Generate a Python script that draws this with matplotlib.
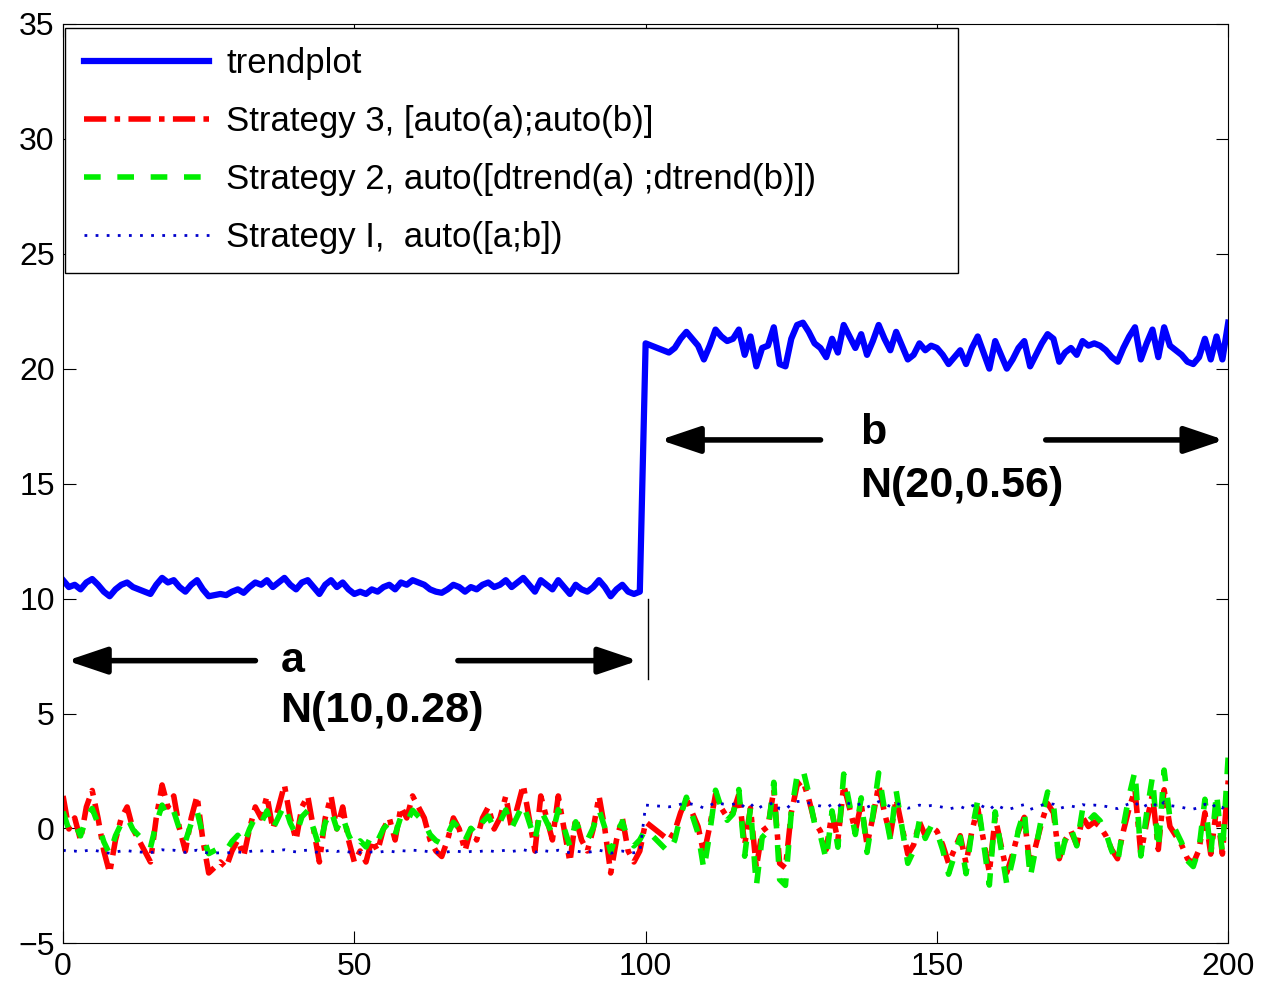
import numpy as np
import matplotlib.pyplot as plt

plt.rcParams['font.family'] = ['Liberation Sans', 'DejaVu Sans']

# trend: segment a (x = 0..99), segment b (x = 100..200)
seg_a = [10.8, 10.5, 10.6, 10.4, 10.7, 10.85, 10.6, 10.3, 10.1, 10.4,
         10.6, 10.7, 10.5, 10.4, 10.3, 10.2, 10.6, 10.9, 10.7, 10.8,
         10.5, 10.3, 10.6, 10.8, 10.4, 10.1, 10.15, 10.2, 10.15, 10.3,
         10.4, 10.25, 10.5, 10.7, 10.6, 10.8, 10.5, 10.7, 10.9, 10.6,
         10.4, 10.7, 10.8, 10.5, 10.2, 10.6, 10.8, 10.5, 10.7, 10.4,
         10.2, 10.3, 10.2, 10.4, 10.3, 10.5, 10.6, 10.4, 10.7, 10.6,
         10.8, 10.7, 10.6, 10.4, 10.3, 10.25, 10.4, 10.6, 10.5, 10.3,
         10.5, 10.4, 10.6, 10.7, 10.5, 10.6, 10.8, 10.5, 10.7, 10.9,
         10.6, 10.3, 10.8, 10.6, 10.4, 10.8, 10.5, 10.2, 10.6, 10.4,
         10.3, 10.5, 10.8, 10.5, 10.1, 10.4, 10.6, 10.3, 10.2, 10.3]
seg_b = [21.1, 21.0, 20.9, 20.8, 20.7, 20.9, 21.3, 21.6, 21.3, 21.0,
         20.4, 21.0, 21.7, 21.4, 21.2, 21.3, 21.7, 20.6, 21.4, 20.1,
         20.9, 21.0, 21.8, 20.2, 20.1, 21.3, 21.9, 22.0, 21.6, 21.1,
         20.9, 20.5, 21.3, 20.7, 21.9, 21.4, 20.9, 21.5, 20.6, 21.2,
         21.9, 21.3, 20.8, 21.6, 21.0, 20.4, 20.6, 21.1, 20.8, 21.0,
         20.9, 20.6, 20.2, 20.5, 20.8, 20.2, 20.9, 21.4, 20.7, 20.0,
         21.2, 20.6, 20.0, 20.4, 20.9, 21.2, 20.1, 20.6, 21.1, 21.5,
         21.3, 20.3, 20.7, 20.9, 20.6, 21.2, 21.0, 21.1, 21.0, 20.8,
         20.5, 20.3, 20.9, 21.4, 21.8, 20.4, 21.1, 21.7, 20.5, 21.8,
         21.0, 20.8, 20.6, 20.3, 20.2, 20.5, 21.3, 20.4, 21.4, 20.4,
         22.0]

labels = ["trendplot", "Strategy 3, [auto(a);auto(b)]",
          "Strategy 2, auto([dtrend(a) ;dtrend(b)])", "Strategy I,  auto([a;b])"]

a = np.array(seg_a)
b = np.array(seg_b)
x = np.arange(len(a) + len(b))
trend = np.concatenate([a, b])


def auto(v):
    return (v - v.mean()) / v.std(ddof=1)


def dtrend(v):
    t = np.arange(len(v))
    return v - np.polyval(np.polyfit(t, v, 1), t)


s1 = auto(trend)
s3 = np.concatenate([auto(a), auto(b)])
s2 = auto(np.concatenate([dtrend(a), dtrend(b)]))

fig = plt.figure(figsize=(12.61, 9.91), dpi=100)
ax = fig.add_axes([0.05, 0.048, 0.924, 0.928])

ax.plot(x, trend, color="#0000ff", lw=4.5, label=labels[0])
ax.plot(x, s3, color="#ff0000", lw=4, dashes=(4, 1.5, 1, 1.5), label=labels[1])
ax.plot(x, s2, color="#00ee00", lw=4, dashes=(3, 3), label=labels[2])
ax.plot(x, s1, color="#0000cc", lw=2, dashes=(1, 3), label=labels[3])

# annotations
arrow = dict(arrowstyle="-|>,head_length=0.8,head_width=0.27", color="black",
             lw=4, mutation_scale=30)
ax.annotate("", xy=(0.2, 7.3), xytext=(33.5, 7.3), arrowprops=arrow)
ax.annotate("", xy=(99.2, 7.3), xytext=(67.3, 7.3), arrowprops=arrow)
ax.annotate("", xy=(102.0, 16.9), xytext=(130.5, 16.9), arrowprops=arrow)
ax.annotate("", xy=(199.8, 16.9), xytext=(168.2, 16.9), arrowprops=arrow)
ax.plot([100.4, 100.4], [6.5, 10], color="black", lw=1)
ax.text(37.3, 7.3, "a", fontsize=31, fontweight="bold", va="center")
ax.text(37.3, 5.1, "N(10,0.28)", fontsize=31, fontweight="bold", va="center")
ax.text(136.8, 17.2, "b", fontsize=31, fontweight="bold", va="center")
ax.text(136.8, 14.9, "N(20,0.56)", fontsize=31, fontweight="bold", va="center")

ax.set_xlim(0, 200)
ax.set_ylim(-5, 35)
ax.set_xticks(np.arange(0, 201, 50))
ax.set_yticks(np.arange(-5, 36, 5))
ax.tick_params(direction="in", top=True, right=True, labelsize=23, length=9, pad=6)

leg = ax.legend(loc="upper left", bbox_to_anchor=(0.0017, 0.5, 0.766, 0.4956),
                mode="expand", borderaxespad=0, fontsize=25, handlelength=3.6,
                handletextpad=0.5, labelspacing=0.72, borderpad=0.55,
                fancybox=False, framealpha=1)
leg.get_frame().set_edgecolor("black")
leg.get_frame().set_linewidth(1)

fig.savefig("out.png", dpi=100)
